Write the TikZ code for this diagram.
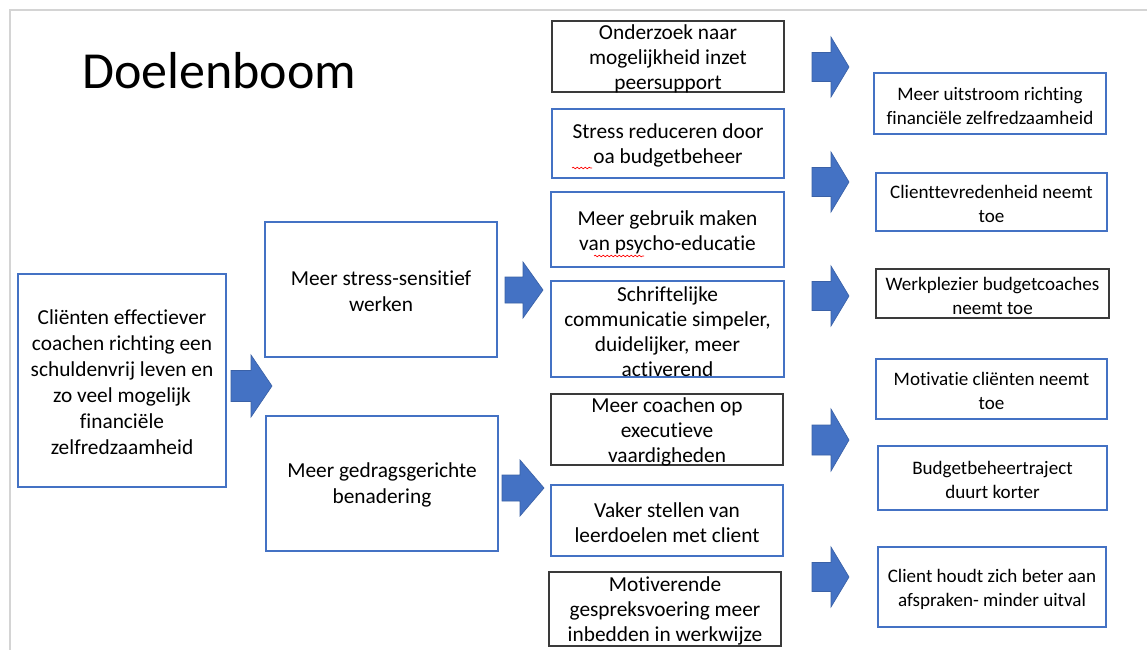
\documentclass[tikz,border=0pt]{standalone}
\usepackage{fontspec}
\setmainfont{Carlito}[RawFeature={-liga;-clig;-calt;-dlig}]
\usetikzlibrary{decorations.pathmorphing}
\definecolor{boxblue}{HTML}{4472C4}
\definecolor{boxdark}{HTML}{3A3A3A}
\definecolor{arrowblue}{HTML}{4472C4}
\definecolor{slidegray}{HTML}{D4D4D4}
\tikzset{
  box/.style={draw=#1, line width=0.9pt, fill=white, inner sep=0pt},
  mid/.style={font=\fontsize{16}{18.75}\selectfont, align=center, text=black, yshift=-1.8pt},
  big/.style={font=\fontsize{16}{19.5}\selectfont, align=center, text=black, yshift=-1.2pt},
  res/.style={font=\fontsize{14.3}{18}\selectfont, align=center, text=black, yshift=-1.5pt},
  blockarrow/.style={fill=arrowblue, draw=arrowblue!85!black, line width=0.5pt},
  squiggle/.style={draw=red, line width=0.5pt, decorate, decoration={snake, amplitude=0.6pt, segment length=3pt}}
}
% #1 name, #2 x1, #3 y1, #4 x2, #5 y2, #6 colour, #7 text style, #8 text
\newcommand\bx[8]{%
  \pgfmathsetmacro\bxcx{(#2+#4)/2}%
  \pgfmathsetmacro\bxcy{(#3+#5)/2}%
  \pgfmathsetmacro\bxw{(#4-#2)*0.75}%
  \pgfmathsetmacro\bxh{(#5-#3)*0.75}%
  \node[box=#6, minimum width=\bxw pt, minimum height=\bxh pt,
        label={[#7]center:{#8}}] (#1) at (\bxcx,\bxcy) {};}
% #1 left x, #2 head x, #3 tip x, #4 centre y, #5 shaft half, #6 head half
\newcommand\barrow[6]{%
  \fill[blockarrow] (#1,#4-#5) -- (#2,#4-#5) -- (#2,#4-#6) -- (#3,#4)
     -- (#2,#4+#6) -- (#2,#4+#5) -- (#1,#4+#5) -- cycle;}
\begin{document}
\begin{tikzpicture}[x=0.75pt,y=-0.75pt]
\useasboundingbox (0,0) rectangle (1147,650);
\fill[white] (0,0) rectangle (1147,650);
% slide edge
\draw[slidegray, line width=1.5pt] (10,650) -- (10,10) -- (1147,10);
% title
\node[anchor=base west, inner sep=0pt, font=\fontsize{39}{46}\selectfont] (title) at (82,88) {Doelenboom};
% left
\bx{goal}{18}{274}{226}{487}{boxblue}{big}{Cliënten effectiever\\coachen richting een\\schuldenvrij leven en\\zo veel mogelijk\\financiële\\zelfredzaamheid}
% column 1
\bx{stress}{265}{222}{497}{357}{boxblue}{big}{Meer stress-sensitief\\werken}
\bx{gedrag}{266}{416}{498}{551}{boxblue}{big}{Meer gedragsgerichte\\benadering}
% column 2
\bx{m1}{552}{21}{784}{92}{boxdark}{mid}{Onderzoek naar\\mogelijkheid inzet\\peersupport}
\bx{m2}{552}{109}{784}{178}{boxblue}{mid}{Stress reduceren door\\oa budgetbeheer}
\bx{m3}{551}{192}{784}{267}{boxblue}{mid}{Meer gebruik maken\\van psycho-educatie}
\bx{m4}{551}{281}{784}{377}{boxblue}{mid}{Schriftelijke\\communicatie simpeler,\\duidelijker, meer\\activerend}
\bx{m5}{551}{394}{783}{465}{boxdark}{mid}{Meer coachen op\\executieve\\vaardigheden}
\bx{m6}{551}{485}{783}{556}{boxblue}{mid}{Vaker stellen van\\leerdoelen met client}
\bx{m7}{549}{572}{781}{646}{boxdark}{mid}{Motiverende\\gespreksvoering meer\\inbedden in werkwijze}
% column 3
\bx{r1}{874}{73}{1106}{134}{boxblue}{res}{Meer uitstroom richting\\financiële zelfredzaamheid}
\bx{r2}{876}{173}{1107}{231}{boxblue}{res}{Clienttevredenheid neemt\\toe}
\bx{r3}{876}{269}{1109}{318}{boxdark}{res}{Werkplezier budgetcoaches\\neemt toe}
\bx{r4}{876}{359}{1107}{419}{boxblue}{res}{Motivatie cliënten neemt\\toe}
\bx{r5}{878}{446}{1107}{510}{boxblue}{res}{Budgetbeheertraject\\duurt korter}
\bx{r6}{878}{547}{1106}{627}{boxblue}{res}{Client houdt zich beter aan\\afspraken- minder uitval}
% spell-check squiggles
\draw[squiggle] (572,168) -- (592,168);
\draw[squiggle] (594,256) -- (644,256);
% block arrows
\barrow{231}{251}{272}{386}{15.5}{31}
\barrow{505}{523}{543}{290}{13}{28}
\barrow{502}{520}{544}{488}{13}{28}
\barrow{812}{831}{849}{67}{14.5}{30}
\barrow{812}{831}{849}{182}{14.5}{30}
\barrow{812}{831}{849}{296}{14.5}{30}
\barrow{812}{831}{849}{440}{15}{31}
\barrow{812}{831}{849}{577}{14.5}{30}
\end{tikzpicture}
\end{document}
